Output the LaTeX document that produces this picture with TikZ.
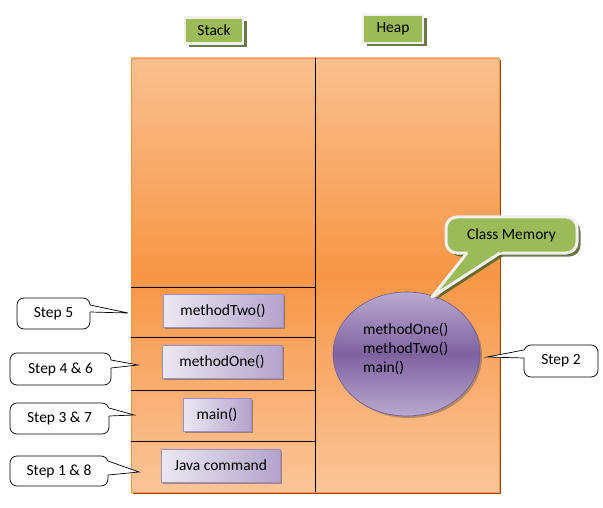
\documentclass[tikz,border=0pt]{standalone}
\usepackage{fontspec}
\setmainfont{Carlito}
\usetikzlibrary{shadows,shapes.geometric}
\definecolor{lgreen}{HTML}{9BBB59}
\definecolor{lgray}{HTML}{F0F0F0}
\definecolor{shgreen}{HTML}{4F6228}
\definecolor{orTop}{HTML}{F9C08F}
\definecolor{orMid}{HTML}{F79646}
\definecolor{orBot}{HTML}{FAC59A}
\definecolor{brownsh}{HTML}{984807}
\definecolor{lavL}{HTML}{ECE8F2}
\definecolor{lavD}{HTML}{B3A3CB}
\definecolor{lavB}{HTML}{9F8FC2}
\definecolor{purL}{HTML}{B9A9CF}
\definecolor{purD}{HTML}{7E62A0}
\definecolor{purB}{HTML}{6F5B98}
\begin{document}
\begin{tikzpicture}[x=1pt,y=-1pt,font=\fontsize{15.5}{18}\selectfont,
  greenlabel/.style={fill=lgreen,draw=lgray,line width=2.5pt,inner sep=0pt,
    drop shadow={shadow xshift=3.5pt,shadow yshift=-3.5pt,fill=shgreen,opacity=.85}},
  framebox/.style={draw=orMid,line width=.8pt,top color=orTop,bottom color=orBot,middle color=orMid,
    inner sep=0pt,drop shadow={shadow xshift=2pt,shadow yshift=-2pt,fill=brownsh,opacity=1}},
  stackbox/.style={draw=lavB,line width=.6pt,left color=lavL,right color=lavD,inner sep=0pt,minimum height=33,
    drop shadow={shadow xshift=1.5pt,shadow yshift=-1.5pt,fill=black!70,opacity=.5}},
  stepcall/.style={draw=black,fill=white,rounded corners=7pt,line width=.7pt,inner sep=0pt},
  ptrline/.style={draw=black,line width=.7pt,line join=miter},
  divline/.style={draw=black,line width=1pt}]
\useasboundingbox (0,0) rectangle (603,508);

% frame
\node[framebox,minimum width=368,minimum height=434] (frame) at (315,275) {};
\draw[divline] (frame.north) -- (frame.south);
\coordinate (h1l) at (131,287); \coordinate (h1r) at (315,287);
\coordinate (h2l) at (131,337); \coordinate (h2r) at (315,337);
\coordinate (h3l) at (131,390); \coordinate (h3r) at (315,390);
\coordinate (h4l) at (131,441); \coordinate (h4r) at (315,441);
\draw[divline] (h1l) -- (h1r) (h2l) -- (h2r) (h3l) -- (h3r) (h4l) -- (h4r);

% labels
\node[greenlabel,minimum width=58,minimum height=26] (stk) at (214,30.5) {Stack};
\node[greenlabel,minimum width=60,minimum height=28] (hp) at (393,29) {Heap};

% stack frames
\node[stackbox,minimum width=120] (m2) at (223,310.5) {methodTwo()};
\node[stackbox,minimum width=120] (m1) at (222,361.5) {methodOne()};
\node[stackbox,minimum width=68] (mn) at (217,414.5) {main()};
\node[stackbox,minimum width=119] (jc) at (220.5,465.5) {Java command};

% heap ellipse
\node[ellipse,minimum width=147,minimum height=124,draw=purB,line width=.6pt,
  top color=purL,bottom color=purL,middle color=purD,
  drop shadow={shadow xshift=2pt,shadow yshift=-2pt,fill=black!70,opacity=.4}] (ell) at (406.5,354) {};
\node[align=left,anchor=west,inner sep=0pt,font=\fontsize{15.5}{19}\selectfont] (ellt) at (363,348.5)
  {methodOne()\\methodTwo()\\main()};

% Class Memory callout
\fill[shgreen,opacity=.85] (470.5,256) -- (435.5,300) -- (503.5,256) -- cycle;
\node[greenlabel,line width=3pt,rounded corners=11pt,minimum width=131,minimum height=36] (cm) at (511.5,235) {Class Memory};
\coordinate (cmtip) at (432,297);
\fill[lgreen] (470.3,249) -- (cmtip) -- (506.3,249) -- cycle;
\draw[lgray,line width=3pt,line join=round] (467,253) -- (cmtip) -- (500,253);

% step callouts (left)
\node[stepcall,minimum width=73,minimum height=31] (s5) at (53.5,313.5) {Step 5};
\coordinate (t5) at (128,313);
\fill[white] (89,305) -- (t5) -- (89,312) -- cycle;
\draw[ptrline] (90,305) -- (t5) -- (90,312);

\node[stepcall,minimum width=101,minimum height=32] (s46) at (60.5,369) {Step 4 \& 6};
\coordinate (t46) at (138,365);
\fill[white] (110,360) -- (t46) -- (110,368) -- cycle;
\draw[ptrline] (111,360) -- (t46) -- (111,368);

\node[stepcall,minimum width=99,minimum height=31] (s37) at (59.5,418.5) {Step 3 \& 7};
\coordinate (t37) at (134,415);
\fill[white] (108,408) -- (t37) -- (108,416) -- cycle;
\draw[ptrline] (109,408) -- (t37) -- (109,416);

\node[stepcall,minimum width=98,minimum height=30] (s18) at (59,471) {Step 1 \& 8};
\coordinate (t18) at (139,472);
\fill[white] (107,461) -- (t18) -- (107,475) -- cycle;
\draw[ptrline] (108,461) -- (t18) -- (108,475);

% step 2 callout (right)
\node[stepcall,minimum width=74,minimum height=32] (s2) at (561,361) {Step 2};
\coordinate (t2) at (487,357);
\fill[white] (525,350) -- (t2) -- (525,358) -- cycle;
\draw[ptrline] (524,350) -- (t2) -- (524,358);
\end{tikzpicture}
\end{document}
